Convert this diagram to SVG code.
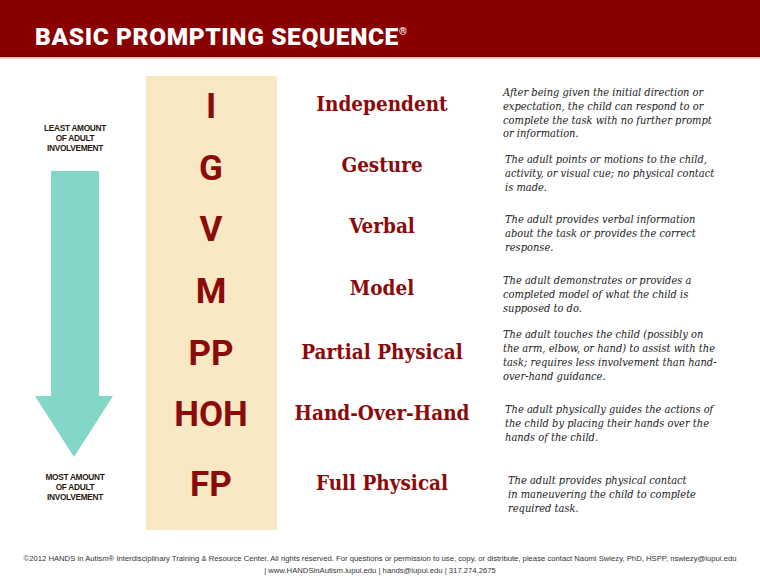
<svg xmlns="http://www.w3.org/2000/svg" width="760" height="587" viewBox="0 0 760 587">
<style>
.ltr{font-family:Roboto,"Liberation Sans",sans-serif;font-weight:bold;font-size:35px;fill:#8b0a0a;text-anchor:middle}
.nm{font-family:"DejaVu Serif Condensed","DejaVu Serif",serif;font-weight:bold;font-size:20.5px;fill:#8b0a0a;text-anchor:middle}
.ds{font-family:"DejaVu Serif Condensed","DejaVu Serif",serif;font-style:italic;font-size:11px;fill:#222}
.side{font-family:"Liberation Sans",sans-serif;font-weight:bold;font-size:8.3px;fill:#2a1a10;text-anchor:middle;letter-spacing:-0.3px}
.ft{font-family:"Liberation Sans Narrow","Liberation Sans",sans-serif;font-size:7.7px;fill:#333;text-anchor:middle}
</style>
<rect x="0" y="0" width="760" height="587" fill="#ffffff"/>
<g id="header">
<rect x="0" y="0" width="760" height="57" fill="#8a0000"/>
<rect x="0" y="57" width="760" height="1.5" fill="#e6b3b3"/>
<text x="35" y="45" font-family="Roboto,'Liberation Sans',sans-serif" font-weight="900" font-size="24.5" letter-spacing="0.6" fill="#ffffff">BASIC PROMPTING SEQUENCE<tspan font-size="10" dy="-10">®</tspan></text>
</g>
<g id="column"><rect x="146" y="76" width="131" height="454" fill="#f8e8c4"/></g>
<g id="arrow">
<polygon points="51,171 99,171 99,396 113,396 74,457 35,396 51,396" fill="#84d6c9"/>
<text class="side" x="75" y="131">LEAST AMOUNT</text>
<text class="side" x="75" y="141">OF ADULT</text>
<text class="side" x="75" y="151">INVOLVEMENT</text>
<text class="side" x="75" y="480">MOST AMOUNT</text>
<text class="side" x="75" y="490">OF ADULT</text>
<text class="side" x="75" y="500">INVOLVEMENT</text>
</g>
<g id="row-I">
<text class="ltr" x="211" y="118">I</text>
<text class="nm" x="382" y="111">Independent</text>
<text class="ds" x="503" y="96">After being given the initial direction or</text>
<text class="ds" x="503" y="110">expectation, the child can respond to or</text>
<text class="ds" x="503" y="124">complete the task with no further prompt</text>
<text class="ds" x="503" y="137">or information.</text>
</g>
<g id="row-G">
<text class="ltr" x="211" y="180">G</text>
<text class="nm" x="382" y="172">Gesture</text>
<text class="ds" x="505" y="163">The adult points or motions to the child,</text>
<text class="ds" x="505" y="177">activity, or visual cue; no physical contact</text>
<text class="ds" x="505" y="191">is made.</text>
</g>
<g id="row-V">
<text class="ltr" x="211" y="241">V</text>
<text class="nm" x="382" y="233">Verbal</text>
<text class="ds" x="505" y="223">The adult provides verbal information</text>
<text class="ds" x="505" y="237">about the task or provides the correct</text>
<text class="ds" x="505" y="251">response.</text>
</g>
<g id="row-M">
<text class="ltr" x="211" y="303">M</text>
<text class="nm" x="382" y="295">Model</text>
<text class="ds" x="503" y="284">The adult demonstrates or provides a</text>
<text class="ds" x="503" y="298">completed model of what the child is</text>
<text class="ds" x="503" y="312">supposed to do.</text>
</g>
<g id="row-PP">
<text class="ltr" x="211" y="365">PP</text>
<text class="nm" x="382" y="359">Partial Physical</text>
<text class="ds" x="503" y="338">The adult touches the child (possibly on</text>
<text class="ds" x="503" y="352">the arm, elbow, or hand) to assist with the</text>
<text class="ds" x="503" y="366">task; requires less involvement than hand-</text>
<text class="ds" x="503" y="380">over-hand guidance.</text>
</g>
<g id="row-HOH">
<text class="ltr" x="211" y="426">HOH</text>
<text class="nm" x="382" y="420">Hand-Over-Hand</text>
<text class="ds" x="505" y="413">The adult physically guides the actions of</text>
<text class="ds" x="505" y="427">the child by placing their hands over the</text>
<text class="ds" x="505" y="441">hands of the child.</text>
</g>
<g id="row-FP">
<text class="ltr" x="211" y="496">FP</text>
<text class="nm" x="382" y="490">Full Physical</text>
<text class="ds" x="508" y="484">The adult provides physical contact</text>
<text class="ds" x="508" y="498">in maneuvering the child to complete</text>
<text class="ds" x="508" y="512">required task.</text>
</g>
<g id="footer">
<text class="ft" x="380" y="561">©2012 HANDS in Autism® Interdisciplinary Training &amp; Resource Center. All rights reserved. For questions or permission to use, copy, or distribute, please contact Naomi Swiezy, PhD, HSPP, nswiezy@iupui.edu</text>
<text class="ft" x="380" y="573">| www.HANDSinAutism.iupui.edu | hands@iupui.edu | 317.274.2675</text>
</g>
<g id="connectors"></g>
</svg>
